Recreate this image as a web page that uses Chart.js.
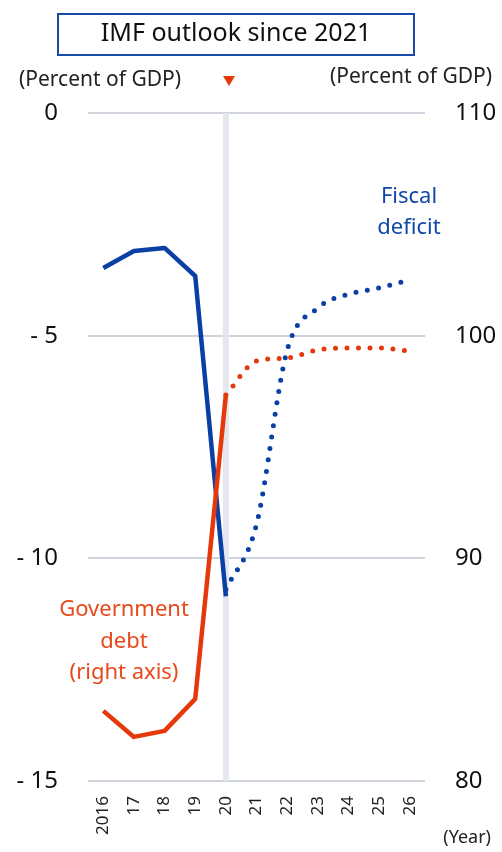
<!DOCTYPE html>
<html lang="en">
<head>
    <meta charset="UTF-8">
    <title>IMF outlook since 2021</title>
    <script src="https://cdn.jsdelivr.net/npm/chart.js@4.4.1/dist/chart.umd.min.js"></script>
    <style>
        body { margin: 0; background: #fff; }
        #wrap { position: relative; width: 502px; height: 852px; }
    </style>
</head>
<body>
    <div id="wrap"><canvas id="chart"></canvas></div>

    <script>
        // years on the x axis
        const years = ['2016', '17', '18', '19', '20', '21', '22', '23', '24', '25', '26'];

        // fiscal deficit, left axis (percent of GDP)
        const deficitActual  = [-3.48, -3.10, -3.03, -3.66, -10.85, null, null, null, null, null, null];
        const deficitOutlook = [null, null, null, null, -10.7, -9.24, -5.33, -4.38, -4.07, -3.93, -3.75];

        // government debt, right axis (percent of GDP)
        const debtActual  = [83.15, 81.98, 82.25, 83.69, 97.34, null, null, null, null, null, null];
        const debtOutlook = [null, null, null, null, 97.34, 98.86, 99.0, 99.36, 99.45, 99.45, 99.31];

        const leftTicks = [0, -5, -10, -15];
        const rightTicks = [110, 100, 90, 80];

        const BLUE = '#0a3fa6';
        const RED = '#e5390b';
        const FONT = '"Noto Sans", "Open Sans", sans-serif';

        // extra drawing: the grey 2020 marker, title box, unit labels, notes
        const extras = {
            id: 'extras',
            beforeDatasetsDraw(chart) {
                const { ctx, chartArea, scales } = chart;
                const x = scales.x.getPixelForValue(4);
                ctx.save();
                ctx.fillStyle = '#e4e7ed';
                ctx.fillRect(x - 3, chartArea.top, 6, chartArea.bottom - chartArea.top);
                ctx.restore();
            },
            afterDraw(chart) {
                const { ctx } = chart;
                ctx.save();
                // title box
                ctx.strokeStyle = '#1a4aa8';
                ctx.lineWidth = 2;
                ctx.strokeRect(58, 14, 356, 41);
                ctx.fillStyle = '#111';
                ctx.font = '25px ' + FONT;
                ctx.textAlign = 'center';
                ctx.textBaseline = 'middle';
                ctx.fillText('IMF outlook since 2021', 236, 34);

                // unit labels
                ctx.font = '21px ' + FONT;
                ctx.fillStyle = '#222';
                ctx.textAlign = 'left';
                ctx.fillText('(Percent of GDP)', 19, 80);
                ctx.textAlign = 'right';
                ctx.fillText('(Percent of GDP)', 492, 77);
                ctx.font = '18px ' + FONT;
                ctx.fillText('(Year)', 491, 838);

                // red marker triangle
                ctx.fillStyle = RED;
                ctx.beginPath();
                ctx.moveTo(223, 76);
                ctx.lineTo(235, 76);
                ctx.lineTo(229, 86);
                ctx.closePath();
                ctx.fill();

                // series notes
                ctx.font = '22px ' + FONT;
                ctx.textAlign = 'center';
                ctx.fillStyle = '#1148a8';
                ctx.fillText('Fiscal', 409, 197);
                ctx.fillText('deficit', 409, 228);
                ctx.fillStyle = '#e8491a';
                ctx.fillText('Government', 124, 610);
                ctx.fillText('debt', 124, 642);
                ctx.fillText('(right axis)', 124, 673);
                ctx.restore();
            }
        };

        const ctx = document.getElementById('chart').getContext('2d');
        const chart = new Chart(ctx, {
            type: 'line',
            data: {
                labels: years,
                datasets: [
                    {
                        label: 'Government debt',
                        data: debtActual,
                        yAxisID: 'y2',
                        borderColor: RED,
                        borderWidth: 4.5,
                        borderJoinStyle: 'round',
                        pointRadius: 0,
                        order: 1
                    },
                    {
                        label: 'Fiscal deficit',
                        data: deficitActual,
                        yAxisID: 'y',
                        borderColor: BLUE,
                        borderWidth: 4.5,
                        borderJoinStyle: 'round',
                        pointRadius: 0,
                        order: 2
                    },
                    {
                        label: 'Government debt outlook',
                        data: debtOutlook,
                        yAxisID: 'y2',
                        borderColor: RED,
                        borderWidth: 5,
                        borderDash: [0, 11.5],
                        borderCapStyle: 'round',
                        cubicInterpolationMode: 'monotone',
                        pointRadius: 0,
                        order: 3
                    },
                    {
                        label: 'Fiscal deficit outlook',
                        data: deficitOutlook,
                        yAxisID: 'y',
                        borderColor: BLUE,
                        borderWidth: 5,
                        borderDash: [0, 11.5],
                        borderCapStyle: 'round',
                        cubicInterpolationMode: 'monotone',
                        pointRadius: 0,
                        order: 4
                    }
                ]
            },
            options: {
                responsive: true,
                maintainAspectRatio: false,
                animation: false,
                layout: { padding: { top: 113, left: 0, right: 0, bottom: 0 } },
                plugins: {
                    legend: { display: false },
                    tooltip: { enabled: false }
                },
                scales: {
                    x: {
                        offset: true,
                        grid: { display: false },
                        border: { display: false },
                        ticks: {
                            minRotation: 90,
                            maxRotation: 90,
                            padding: 7,
                            color: '#222',
                            font: { family: FONT, size: 17 }
                        },
                        afterFit(scale) { scale.height = 71; }
                    },
                    y: {
                        position: 'left',
                        min: -15,
                        max: 0,
                        afterBuildTicks(scale) { scale.ticks = leftTicks.map(v => ({ value: v })); },
                        grid: { color: '#cfd3de', lineWidth: 2, drawTicks: false },
                        border: { display: false },
                        ticks: {
                            padding: 30,
                            color: '#111',
                            font: { family: FONT, size: 24 },
                            callback: v => v < 0 ? '- ' + Math.abs(v) : String(v)
                        },
                        afterFit(scale) { scale.width = 88; }
                    },
                    y2: {
                        position: 'right',
                        min: 80,
                        max: 110,
                        afterBuildTicks(scale) { scale.ticks = rightTicks.map(v => ({ value: v })); },
                        grid: { display: false, drawTicks: false },
                        border: { display: false },
                        ticks: {
                            padding: 30,
                            color: '#111',
                            font: { family: FONT, size: 24 }
                        },
                        afterFit(scale) { scale.width = 77; }
                    }
                }
            },
            plugins: [extras]
        });
    </script>
</body>
</html>
